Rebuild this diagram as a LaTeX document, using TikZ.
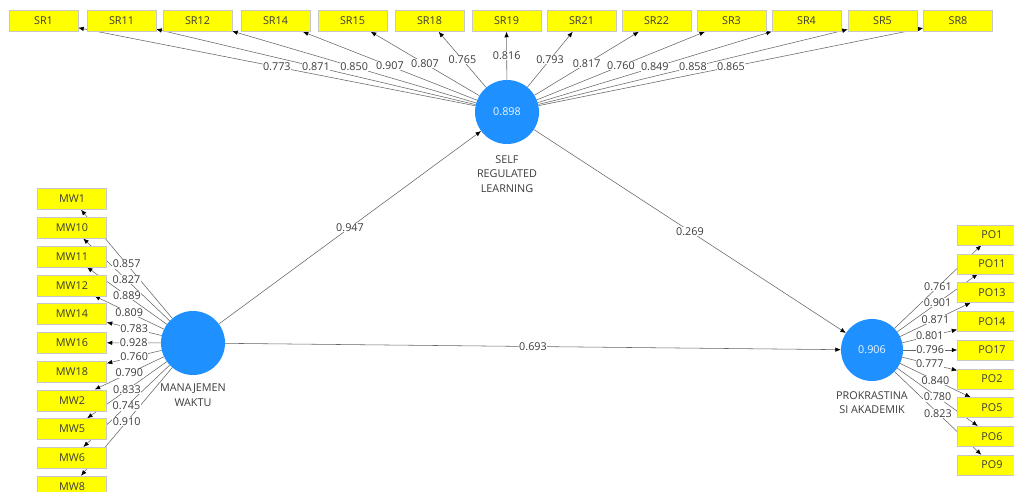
\documentclass[tikz,border=0pt]{standalone}
\usepackage{fontspec}
\setmainfont{Open Sans}
\usetikzlibrary{arrows.meta,backgrounds}
\definecolor{lvblue}{RGB}{30,144,255}
\definecolor{mvyellow}{RGB}{255,255,0}
\definecolor{txtgray}{RGB}{60,60,60}
\begin{document}
\begin{tikzpicture}[x=1pt,y=-1pt,
  mv/.style={draw=black!22, line width=0.5pt, fill=mvyellow, minimum width=69pt, minimum height=21pt, inner sep=0pt, font=\fontsize{10.8}{12}\selectfont, text=txtgray},
  lv/.style={circle, fill=lvblue, minimum size=64pt, inner sep=0pt, text=white!92!lvblue, font=\fontsize{10.8}{12}\selectfont},
  lvname/.style={align=center, text=txtgray, font=\fontsize{10.8}{14.5}\selectfont, inner sep=0pt},
  link/.style={draw=black!60, line width=0.55pt, -{Latex[length=5.5pt,width=4.5pt,color=black]}},
  lbl/.style={fill=white, inner sep=0.5pt, text=txtgray, font=\fontsize{10.8}{12}\selectfont}]
\useasboundingbox (0,0) rectangle (1014,492);
\clip (0,0) rectangle (1014,492);
% latent variables
\node[lv] (SRL) at (507,112) {0.898};
\node[lv] (MWL) at (193,343) {};
\node[lv, minimum size=62pt] (POL) at (872,350) {0.906};
\node[lvname] (SRLn) at (507,174) {SELF\\REGULATED\\LEARNING};
\node[lvname] (MWLn) at (193,395) {MANAJEMEN\\WAKTU};
\node[lvname] (POLn) at (872,402.5) {PROKRASTINA\\SI AKADEMIK};
% indicators
\foreach \n/\x in {SR1/43.5, SR11/121.5, SR12/197.5, SR14/275.5, SR15/352.5, SR18/429.5, SR19/506.5, SR21/581.5, SR22/656.5, SR3/731.5, SR4/806.5, SR5/882.5, SR8/958}
  \node[mv] (\n) at (\x,21) {\n};
\foreach \n [count=\i from 0] in {MW1,MW10,MW11,MW12,MW14,MW16,MW18,MW2,MW5,MW6,MW8}
  \node[mv] (\n) at (72,{199+\i*28.75}) {\n};
\foreach \n [count=\i from 0] in {PO1,PO11,PO13,PO14,PO17,PO2,PO5,PO6,PO9}
  \node[mv, minimum height=20pt] (\n) at (992,{235+\i*28.75}) {\n};
\begin{pgfonlayer}{background}
  \fill[white] (0,0) rectangle (1014,492);
  \foreach \n in {SR1,SR11,SR12,SR14,SR15,SR18,SR19,SR21,SR22,SR3,SR4,SR5,SR8}
    \draw[link] (SRL) -- (\n);
  \foreach \n in {MW1,MW10,MW11,MW12,MW14,MW16,MW18,MW2,MW5,MW6,MW8}
    \draw[link] (MWL) -- (\n);
  \foreach \n in {PO1,PO11,PO13,PO14,PO17,PO2,PO5,PO6,PO9}
    \draw[link] (POL) -- (\n);
  \draw[link] (MWL) -- (SRL);
  \draw[link] (SRL) -- (POL);
  \draw[link] (MWL) -- (POL);
  \foreach \n/\v in {SR1/0.773, SR11/0.871, SR12/0.850, SR14/0.907, SR15/0.807, SR18/0.765, SR19/0.816, SR21/0.793, SR22/0.817, SR3/0.760, SR4/0.849, SR5/0.858, SR8/0.865}
    \path (SRL) -- (\n) node[midway, lbl] {\v};
  \foreach \n/\v in {MW1/0.857, MW10/0.827, MW11/0.889, MW12/0.809, MW14/0.783, MW16/0.928, MW18/0.760, MW2/0.790, MW5/0.833, MW6/0.745, MW8/0.910}
    \path (MWL) -- (\n) node[midway, lbl] {\v};
  \foreach \n/\v in {PO1/0.761, PO11/0.901, PO13/0.871, PO14/0.801, PO17/0.796, PO2/0.777, PO5/0.840, PO6/0.780, PO9/0.823}
    \path (POL) -- (\n) node[midway, lbl] {\v};
  \path (MWL) -- (SRL) node[midway, lbl] {0.947};
  \path (SRL) -- (POL) node[midway, lbl] {0.269};
  \path (MWL) -- (POL) node[midway, lbl] {0.693};
\end{pgfonlayer}
\end{tikzpicture}
\end{document}
